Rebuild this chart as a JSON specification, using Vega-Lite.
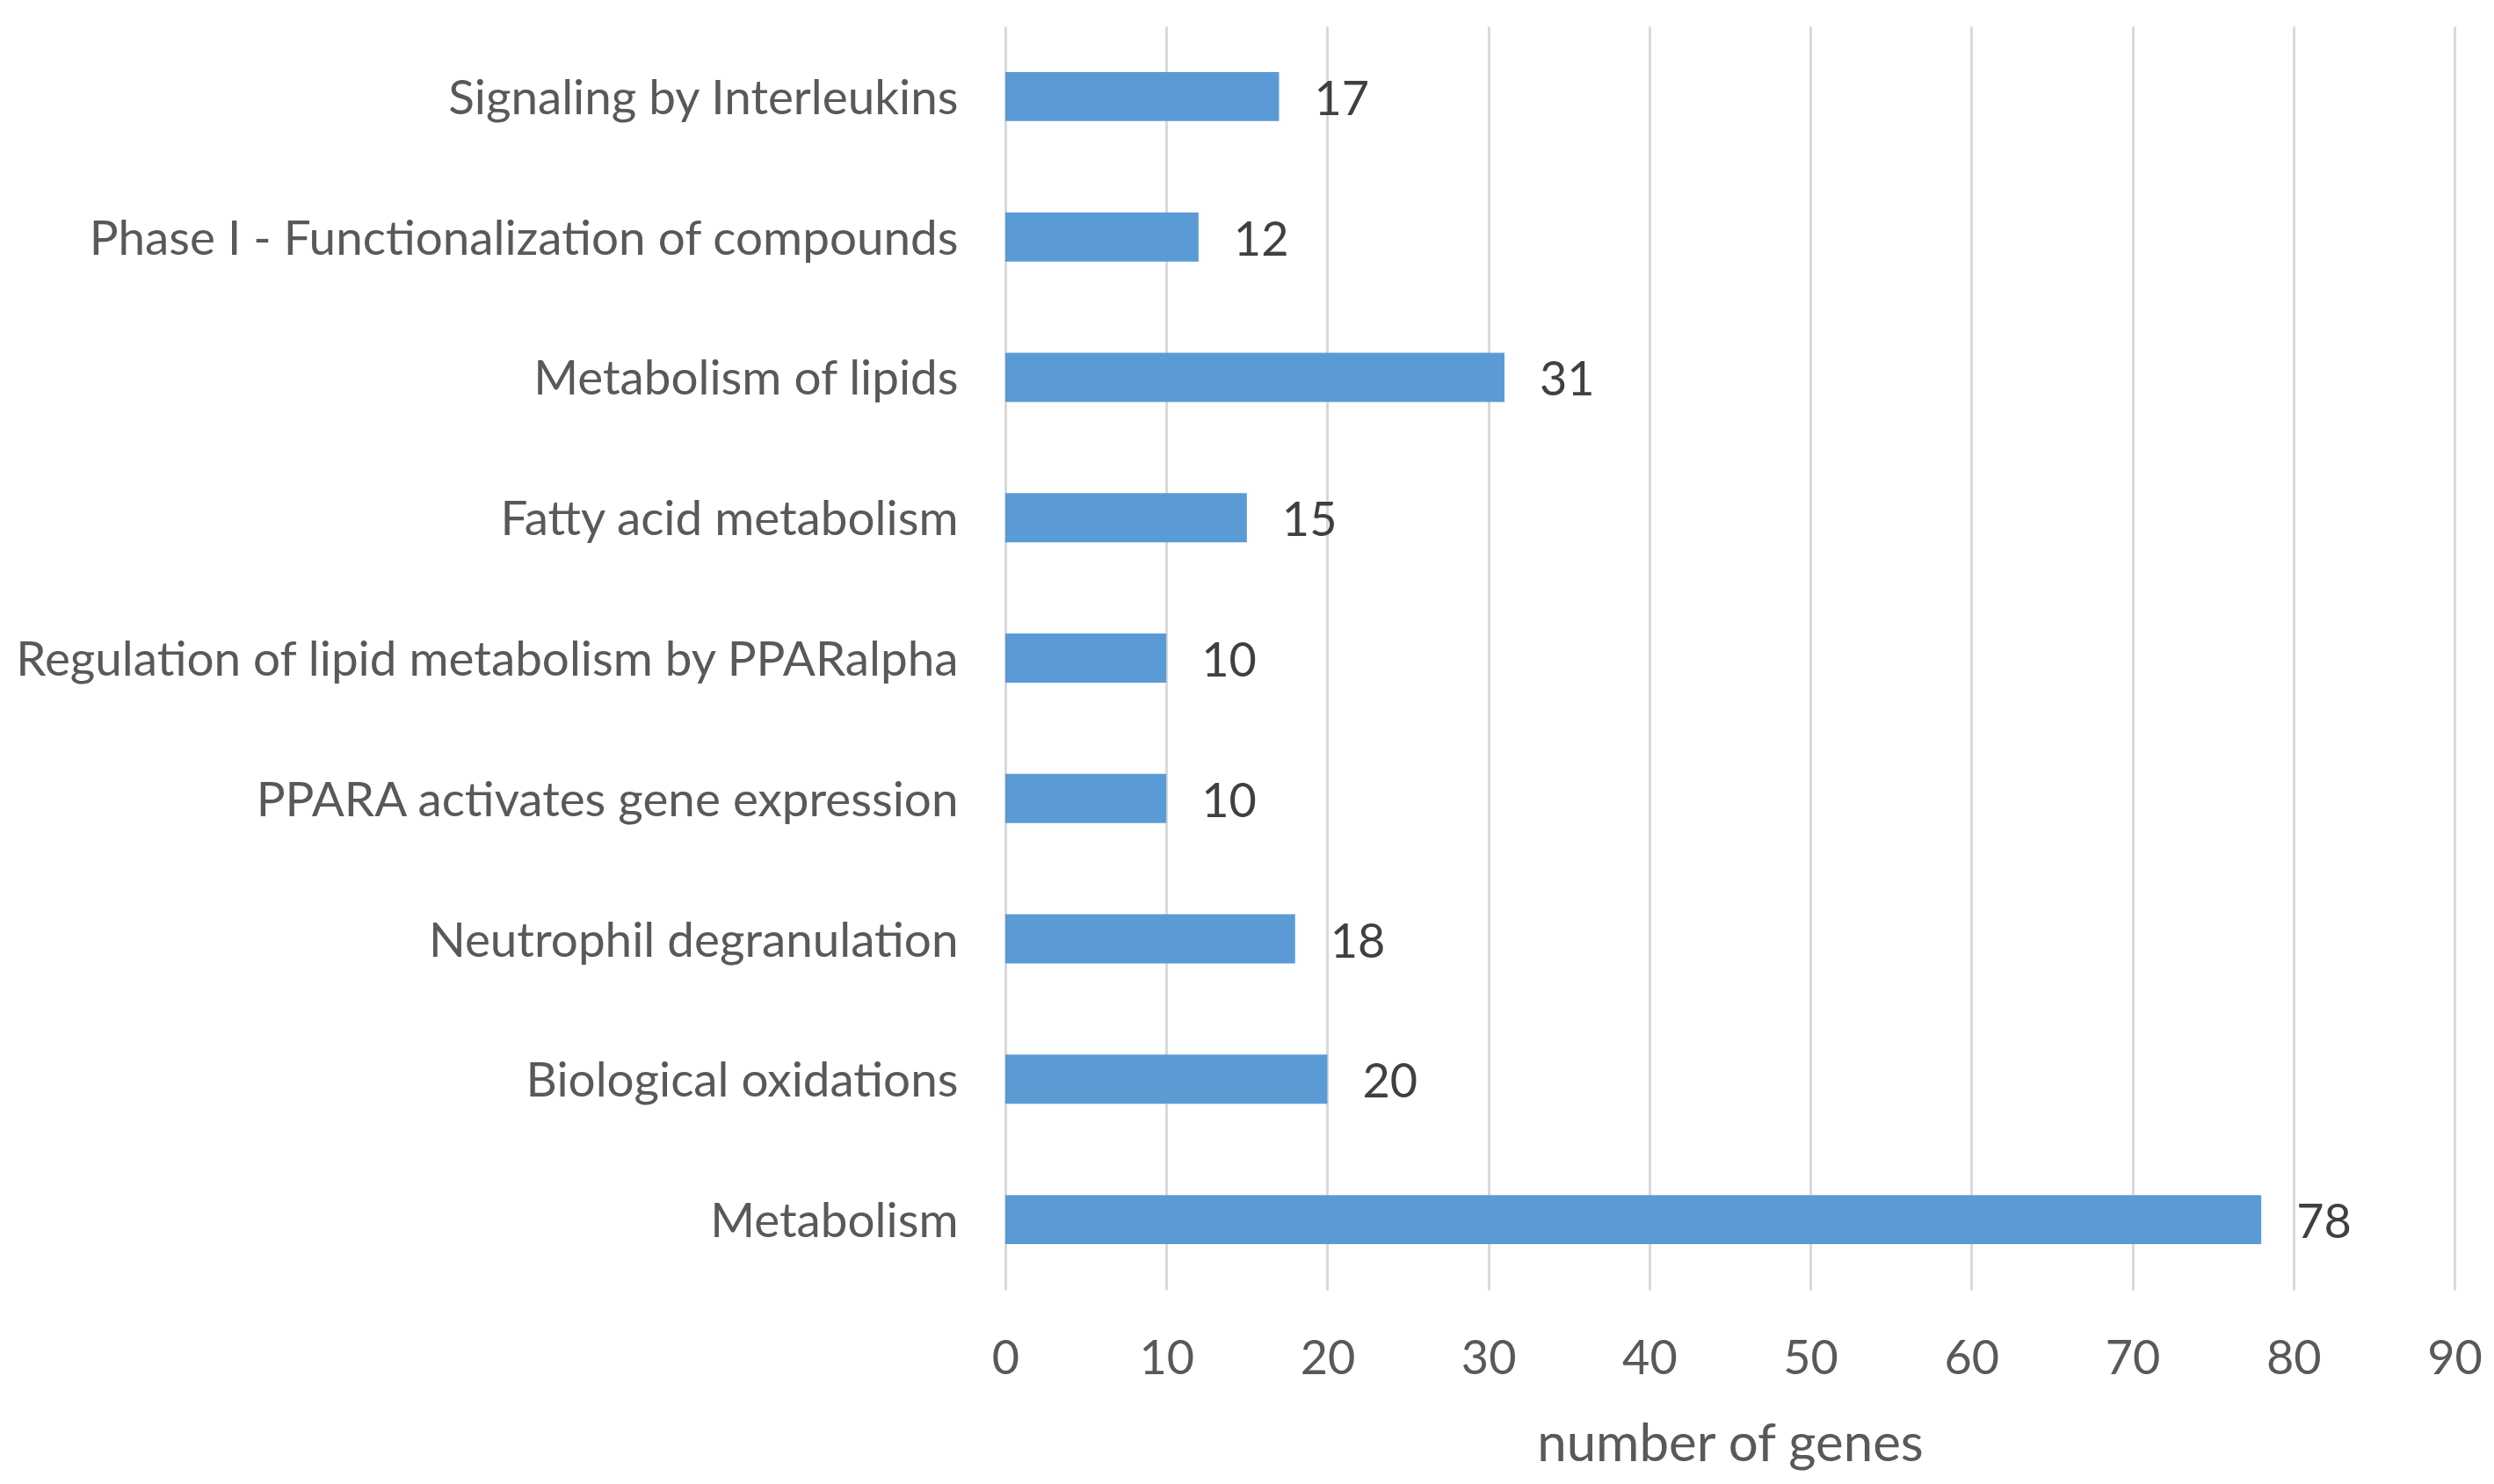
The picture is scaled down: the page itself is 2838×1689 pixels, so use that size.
{
  "$schema": "https://vega.github.io/schema/vega-lite/v6.json",
  "width": 1649,
  "height": 1438,
  "autosize": {"type": "none"},
  "padding": {"left": 1144, "top": 30, "right": 45, "bottom": 221},
  "background": "white",
  "config": {"view": {"stroke": null}, "font": "Lato"},
  "data": {
    "values": [
      {"pathway": "Signaling by Interleukins", "genes": 17},
      {"pathway": "Phase I - Functionalization of compounds", "genes": 12},
      {"pathway": "Metabolism of lipids", "genes": 31},
      {"pathway": "Fatty acid metabolism", "genes": 15},
      {"pathway": "Regulation of lipid metabolism by PPARalpha", "genes": 10},
      {"pathway": "PPARA activates gene expression", "genes": 10},
      {"pathway": "Neutrophil degranulation", "genes": 18},
      {"pathway": "Biological oxidations", "genes": 20},
      {"pathway": "Metabolism", "genes": 78}
    ]
  },
  "encoding": {
    "y": {
      "field": "pathway",
      "type": "nominal",
      "sort": null,
      "scale": {"paddingInner": 0.65, "paddingOuter": 0.325},
      "axis": {
        "title": null,
        "domain": false,
        "ticks": false,
        "tickSize": 0,
        "grid": false,
        "labelPadding": 54,
        "labelOffset": 4,
        "labelFontSize": 54.8,
        "labelColor": "#595959",
        "labelLimit": 3000,
        "labelFont": "Lato"
      }
    }
  },
  "layer": [
    {
      "mark": {"type": "bar", "color": "#5B9BD5"},
      "encoding": {
        "x": {
          "field": "genes",
          "type": "quantitative",
          "scale": {"domain": [0, 90], "nice": false},
          "axis": {
            "title": "number of genes",
            "values": [0, 10, 20, 30, 40, 50, 60, 70, 80, 90],
            "grid": true,
            "gridColor": "#D9D9D9",
            "gridWidth": 3,
            "domain": false,
            "ticks": false,
            "tickSize": 0,
            "labelFlush": false,
            "labelOverlap": false,
            "labelBaseline": "alphabetic",
            "labelPadding": 95,
            "labelFontSize": 54,
            "labelColor": "#595959",
            "labelFont": "Lato",
            "titleFont": "Lato",
            "titleFontSize": 60,
            "titleFontWeight": "normal",
            "titleColor": "#595959",
            "titleBaseline": "alphabetic",
            "titleY": 194
          }
        }
      }
    },
    {
      "mark": {"type": "text", "align": "left", "baseline": "middle", "dx": 40, "dy": 5, "fontSize": 54, "color": "#404040", "font": "Lato"},
      "encoding": {
        "x": {"field": "genes", "type": "quantitative"},
        "text": {"field": "genes", "type": "quantitative"}
      }
    }
  ]
}
